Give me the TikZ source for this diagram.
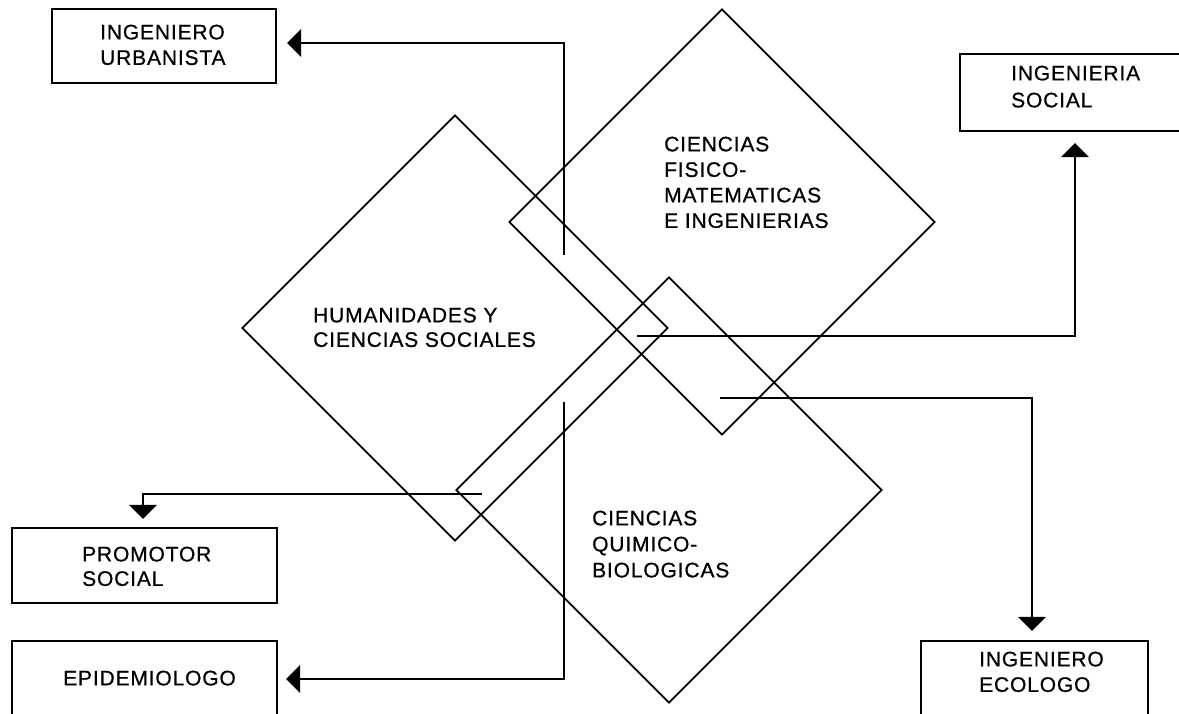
\documentclass[tikz,border=0pt]{standalone}
\usepackage{fontspec}
\newfontfamily\labfont{Liberation Sans}[LetterSpace=4,FakeBold=0.7]
\usetikzlibrary{shapes.geometric,arrows.meta,calc}
\begin{document}
\begin{tikzpicture}[x=1pt,y=-1pt,
  dia/.style={diamond, draw, line width=1.9pt, minimum width=426pt, minimum height=426pt, inner sep=0pt, aspect=1},
  box/.style={rectangle, draw, line width=2.1pt, inner sep=0pt},
  lab/.style={anchor=north west, inner sep=0pt, align=left, font=\labfont\fontsize{21}{25.5}\selectfont},
  conn/.style={line width=2.7pt, -{Triangle[length=14pt,width=27pt]}}]
\useasboundingbox (0,0) rectangle (1179,714);
\clip (0,0) rectangle (1179,714);
\fill[white] (0,0) rectangle (1179,714);

% diamonds
\node[dia] (cfm) at (722,222) {};
\node[dia] (hum) at (455,328) {};
\node[dia] (qb)  at (669,490) {};

% boxes
\node[box, minimum width=224pt, minimum height=74pt] (urb) at (164,46) {};
\node[box, minimum width=225pt, minimum height=77pt] (soc) at (1072.5,92.5) {};
\node[box, minimum width=265pt, minimum height=75pt] (pro) at (144.5,565.5) {};
\node[box, minimum width=265pt, minimum height=80pt] (epi) at (144.5,681) {};
\node[box, minimum width=227pt, minimum height=84pt] (eco) at (1034.5,683) {};

% texts
\node[lab] (turb) at (100,24.5) {INGENIERO\\URBANISTA};
\node[lab, font=\labfont\fontsize{21}{27}\selectfont] (tsoc) at (1011,65.5) {INGENIERIA\\SOCIAL};
\node[lab] (tcfm) at (664,136.5) {CIENCIAS\\FISICO-\\MATEMATICAS\\E INGENIERIAS};
\node[lab, font=\labfont\fontsize{21}{24.5}\selectfont] (thum) at (313,307.5) {HUMANIDADES Y\\CIENCIAS SOCIALES};
\node[lab, font=\labfont\fontsize{21}{26}\selectfont] (tqb) at (592,510.5) {CIENCIAS\\QUIMICO-\\BIOLOGICAS};
\node[lab, font=\labfont\fontsize{21}{24.5}\selectfont] (tpro) at (82,546.5) {PROMOTOR\\SOCIAL};
\node[lab] (tepi) at (63,670.5) {EPIDEMIOLOGO};
\node[lab] (teco) at (979,651.5) {INGENIERO\\ECOLOGO};

% connector start points
\coordinate (su) at (564,255);
\coordinate (ss) at (637,336);
\coordinate (se) at (720,398);
\coordinate (sp) at (482,494);
\coordinate (sd) at (564,402);

% connectors
\draw[conn] (su) |- ([xshift=10pt,yshift=3pt]urb.east);
\draw[conn] (ss) -| ([xshift=2.5pt,yshift=-11pt]soc.south);
\draw[conn] (se) -| ([xshift=-2.5pt,yshift=9pt]eco.north);
\draw[conn] (sp) -| ([xshift=-1.5pt,yshift=8pt]pro.north);
\draw[conn] (sd) |- ([xshift=8pt,yshift=2pt]epi.east);
\end{tikzpicture}
\end{document}
